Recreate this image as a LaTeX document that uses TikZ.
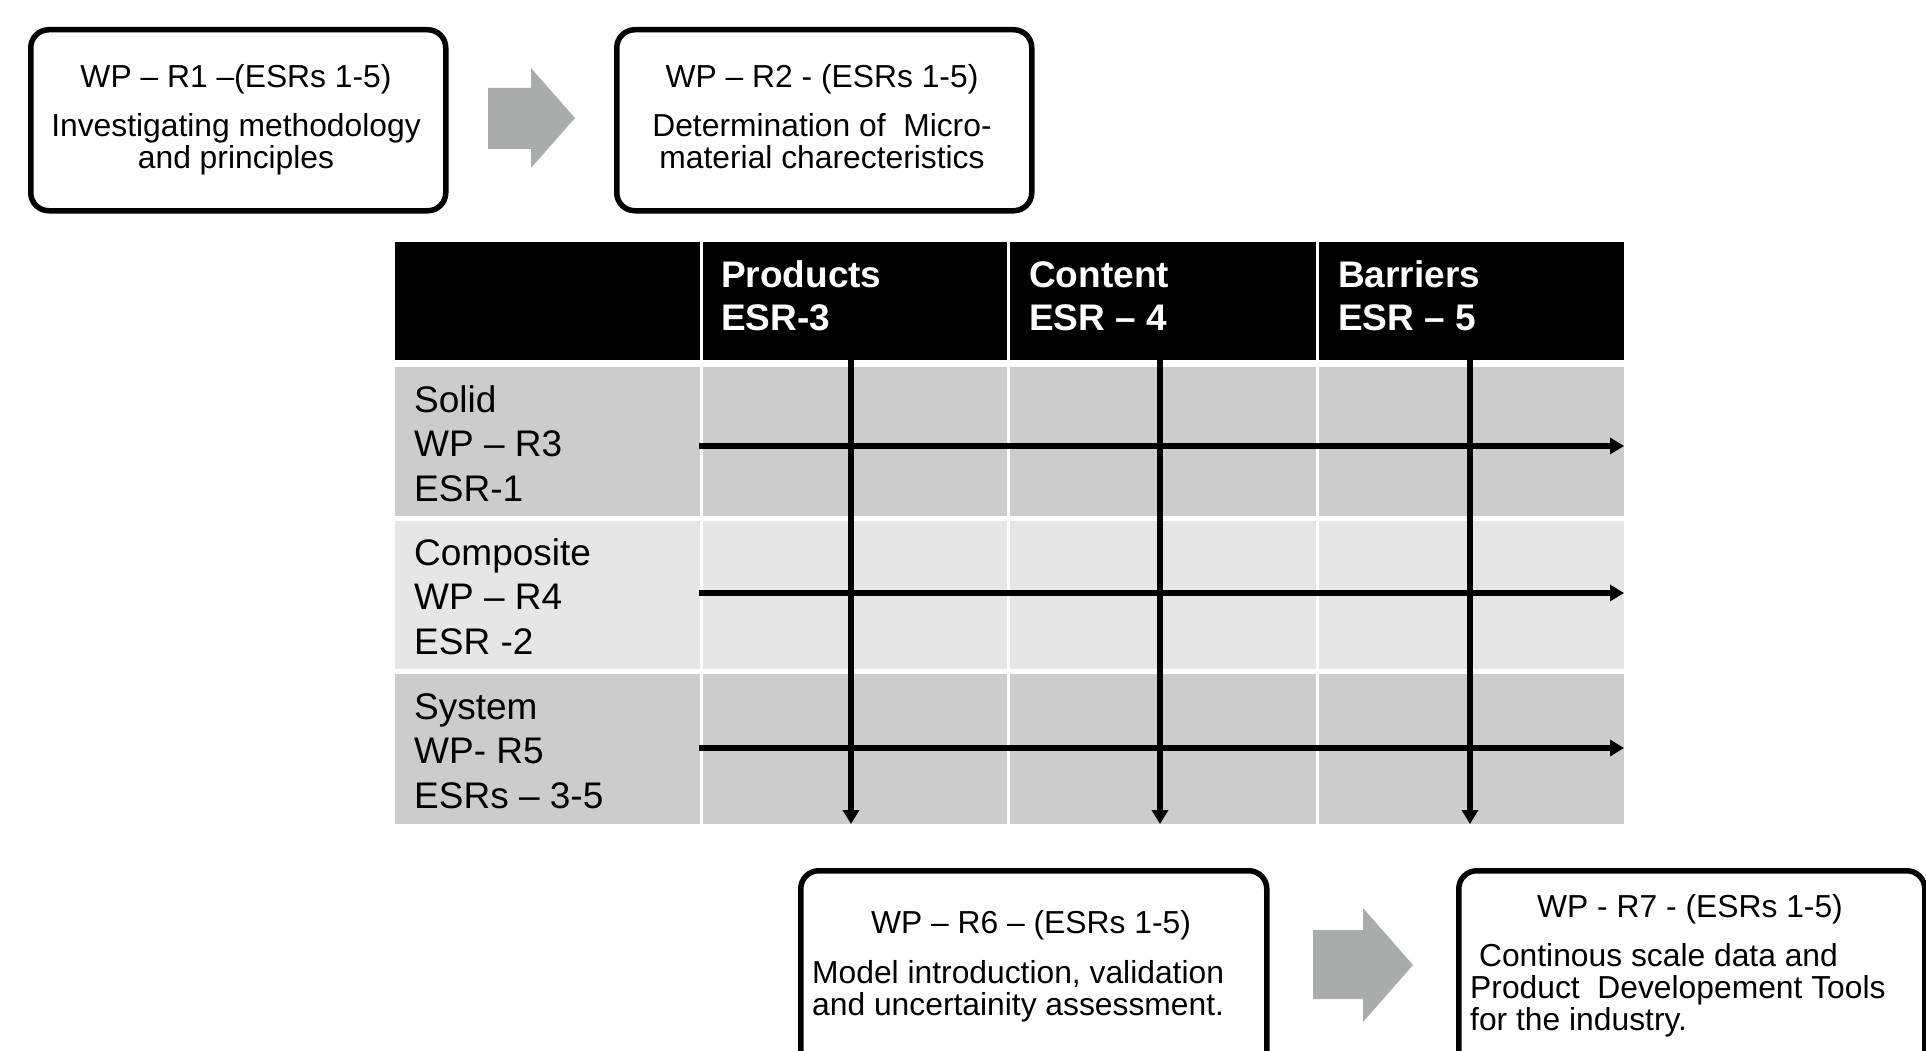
\documentclass[tikz,border=0pt]{standalone}
\usepackage{fontspec}
\setmainfont{Liberation Sans}
\usetikzlibrary{arrows.meta}
\definecolor{rowdark}{RGB}{203,204,203}
\definecolor{rowlight}{RGB}{229,230,229}
\definecolor{arrowgray}{RGB}{170,172,171}
\begin{document}
\begin{tikzpicture}[x=1pt,y=-1pt,
  wpbox/.style={draw=black, line width=5.5pt, rounded corners=18pt, fill=white, inner sep=0pt, anchor=north west},
  boxtext/.style={font=\fontsize{31.8}{32}\selectfont, inner sep=0pt},
  celltext/.style={font=\fontsize{37}{44.5}\selectfont, inner sep=0pt, align=left, anchor=base west},
  headtext/.style={font=\fontsize{37}{43}\selectfont\bfseries, text=white, inner sep=0pt, align=left, anchor=base west},
  flow/.style={line width=6pt, -{Triangle[length=14pt,width=16pt]}},
  blockarrow/.style={fill=arrowgray},
  sep/.style={white, line width=3pt}
]
\useasboundingbox (0,0) rectangle (1926,1051);
\fill[white] (0,0) rectangle (1926,1051);

% top boxes
\node[wpbox, minimum width=415pt, minimum height=181pt] (r1) at (28,27) {};
\node[boxtext, align=center, anchor=base] (r1t) at (236,168) {WP -- R1 --(ESRs 1-5)\\[17pt]Investigating methodology\\and principles};
\node[wpbox, minimum width=415pt, minimum height=181pt] (r2) at (614,27) {};
\node[boxtext, align=center, anchor=base] (r2t) at (822,168) {WP -- R2 - (ESRs 1-5)\\[17pt]Determination of\ \ Micro-\\material charecteristics};
\fill[blockarrow] (488,88) -- (531,88) -- (531,68) -- (575,118) -- (531,168) -- (531,149) -- (488,149) -- cycle;

% table
\fill[black] (395,242) rectangle (1624,360);
\fill[rowdark] (395,367) rectangle (1624,516);
\fill[rowlight] (395,521) rectangle (1624,669);
\fill[rowdark] (395,674) rectangle (1624,824);
\foreach \sx in {701,1008,1317} \draw[sep] (\sx,242) -- (\sx,824);

\node[headtext] (h1) at (721,330) {Products\\ESR-3};
\node[headtext] (h2) at (1029,330) {Content\\ESR -- 4};
\node[headtext] (h3) at (1338,330) {Barriers\\ESR -- 5};

\node[celltext] (c1) at (414,501) {Solid\\WP -- R3\\ESR-1};
\node[celltext] (c2) at (414,654) {Composite\\WP -- R4\\ESR -2};
\node[celltext] (c3) at (414,808) {System\\WP- R5\\ESRs -- 3-5};

\coordinate (v1s) at (851,360); \coordinate (v1e) at (851,824);
\coordinate (v2s) at (1160,360); \coordinate (v2e) at (1160,824);
\coordinate (v3s) at (1470,360); \coordinate (v3e) at (1470,824);
\coordinate (s1s) at (699,446); \coordinate (s1e) at (1624,446);
\coordinate (s2s) at (699,593); \coordinate (s2e) at (1624,593);
\coordinate (s3s) at (699,748); \coordinate (s3e) at (1624,748);
\draw[flow] (s1s) -- (s1e);
\draw[flow] (s2s) -- (s2e);
\draw[flow] (s3s) -- (s3e);
\draw[flow] (v1s) -- (v1e);
\draw[flow] (v2s) -- (v2e);
\draw[flow] (v3s) -- (v3e);

% bottom boxes
\node[wpbox, minimum width=466pt, minimum height=220pt] (r6) at (798,868) {};
\node[boxtext, anchor=base] (r6t) at (1031,933) {WP -- R6 -- (ESRs 1-5)};
\node[boxtext, align=left, anchor=base west] (r6b) at (812,1015) {Model introduction, validation\\and uncertainity assessment.};
\node[wpbox, minimum width=466pt, minimum height=220pt] (r7) at (1456,868) {};
\node[boxtext, anchor=base] (r7t) at (1690,917) {WP - R7 - (ESRs 1-5)};
\node[boxtext, align=left, anchor=base west] (r7b) at (1470,1030) {~Continous scale data and\\Product\ \ Developement Tools\\for the industry.};
\fill[blockarrow] (1313,930) -- (1363,930) -- (1363,908) -- (1413,965) -- (1363,1022) -- (1363,999) -- (1313,999) -- cycle;
\end{tikzpicture}
\end{document}
